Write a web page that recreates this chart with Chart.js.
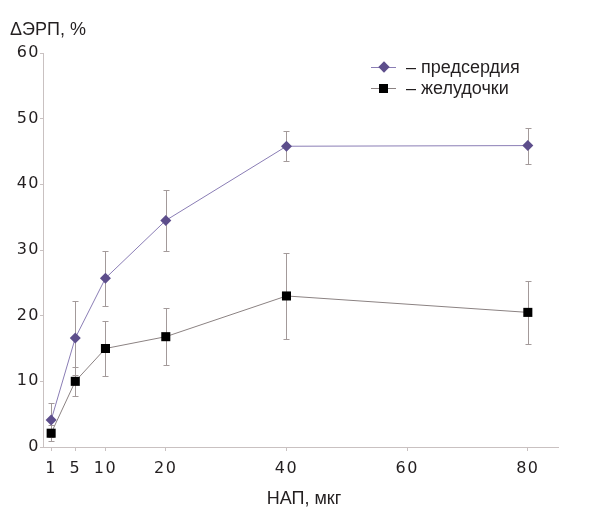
<!DOCTYPE html>
<html>
<head>
<meta charset="utf-8">
<script src="https://cdn.jsdelivr.net/npm/chart.js@4"></script>
<style>
body { margin: 0; background: #fff; }
#wrap { position: relative; width: 593px; height: 527px; font-family: "Liberation Sans", Arial, sans-serif; color: #231f20; }
#wrap canvas { position: absolute; left: 0; top: 0; }
.lbl { position: absolute; font-size: 18px; line-height: 20px; white-space: nowrap; }
.leg { position: absolute; left: 371px; width: 220px; height: 20px; }
.leg .ln { position: absolute; left: 0; top: 10px; width: 25px; height: 1px; }
.leg .mk { position: absolute; }
.leg .t { position: absolute; left: 35px; top: 0; font-size: 18px; line-height: 20px; white-space: nowrap; }
</style>
</head>
<body>
<div id="wrap">
  <canvas id="chart" width="593" height="527"></canvas>
  <div class="lbl" style="left:10px; top:19px;">ΔЭРП, %</div>
  <div class="lbl" style="left:224px; width:160px; text-align:center; top:488px;">НАП, мкг</div>
  <div class="leg" style="top:57px;">
    <div class="ln" style="background:#8a7db5"></div>
    <div class="mk" style="left:9px; top:6px; width:8px; height:8px; background:#5d4e8c; transform:rotate(45deg)"></div>
    <span class="t">– предсердия</span>
  </div>
  <div class="leg" style="top:78px;">
    <div class="ln" style="background:#8b8282"></div>
    <div class="mk" style="left:8px; top:6px; width:9px; height:9px; background:#000"></div>
    <span class="t">– желудочки</span>
  </div>
</div>
<script>
// дозы НАП, мкг
const doses = [1, 5, 10, 20, 40, 80];
const atria = [4.1, 16.6, 25.7, 34.5, 45.8, 45.9];
const atriaSd = [2.6, 5.7, 4.2, 4.6, 2.3, 2.75];
const ventricles = [2.1, 10.0, 15.0, 16.8, 23.0, 20.5];
const ventriclesSd = [1.2, 2.2, 4.15, 4.3, 6.5, 4.85];
const xTicks = [1, 5, 10, 20, 40, 60, 80];

const axisColor = '#c9c1c1';

// усы погрешности, рисуются под точками
const errorBars = {
    id: 'errorBars',
    beforeDraw(chart) {
        chart.ctx.letterSpacing = '1.5px';
    },
    beforeDatasetsDraw(chart) {
        const ctx = chart.ctx, ys = chart.scales.y;
        chart.data.datasets.forEach((ds, i) => {
            const meta = chart.getDatasetMeta(i);
            ctx.save();
            ctx.strokeStyle = '#a39a9a';
            ctx.lineWidth = 1;
            ctx.beginPath();
            meta.data.forEach((pt, j) => {
                const v = ds.data[j].y, e = ds.errors[j];
                const top = Math.round(ys.getPixelForValue(v + e)) + 0.5;
                const bot = Math.round(ys.getPixelForValue(v - e)) + 0.5;
                const px = Math.round(pt.x) + 0.5;
                ctx.moveTo(px, top); ctx.lineTo(px, bot);
                ctx.moveTo(px - 3, top); ctx.lineTo(px + 3, top);
                ctx.moveTo(px - 3, bot); ctx.lineTo(px + 3, bot);
            });
            ctx.stroke();
            ctx.restore();
        });
    }
};

new Chart(document.getElementById('chart'), {
    type: 'line',
    data: {
        datasets: [{
            label: 'предсердия',
            data: doses.map((d, i) => ({ x: d, y: atria[i] })),
            errors: atriaSd,
            borderColor: '#8a7db5',
            borderWidth: 1,
            pointStyle: 'rectRot',
            pointRadius: 5.5,
            pointBackgroundColor: '#5d4e8c',
            pointBorderColor: '#5d4e8c',
            pointBorderWidth: 0
        }, {
            label: 'желудочки',
            data: doses.map((d, i) => ({ x: d, y: ventricles[i] })),
            errors: ventriclesSd,
            borderColor: '#8b8282',
            borderWidth: 1,
            pointStyle: 'rect',
            pointRadius: 6.4,
            pointBackgroundColor: '#000',
            pointBorderColor: '#000',
            pointBorderWidth: 0
        }]
    },
    options: {
        responsive: false,
        animation: false,
        layout: { padding: { top: 53, right: 35, bottom: 0, left: 0 } },
        plugins: { legend: { display: false }, tooltip: { enabled: false } },
        scales: {
            x: {
                type: 'linear',
                min: -0.35,
                max: 85,
                afterBuildTicks: s => { s.ticks = xTicks.map(v => ({ value: v })); },
                afterFit: s => { s.height = 80; },
                grid: { drawOnChartArea: false, color: axisColor, tickLength: 4 },
                border: { color: axisColor },
                ticks: { color: '#231f20', font: { family: 'DejaVu Sans', size: 16 }, padding: 8, maxRotation: 0, autoSkip: false }
            },
            y: {
                min: 0,
                max: 60,
                afterFit: s => { s.width = 43; },
                grid: { drawOnChartArea: false, color: axisColor, tickLength: 3 },
                border: { color: axisColor },
                ticks: { stepSize: 10, color: '#231f20', font: { family: 'DejaVu Sans', size: 16 }, padding: 0 }
            }
        }
    },
    plugins: [errorBars]
});
</script>
</body>
</html>
